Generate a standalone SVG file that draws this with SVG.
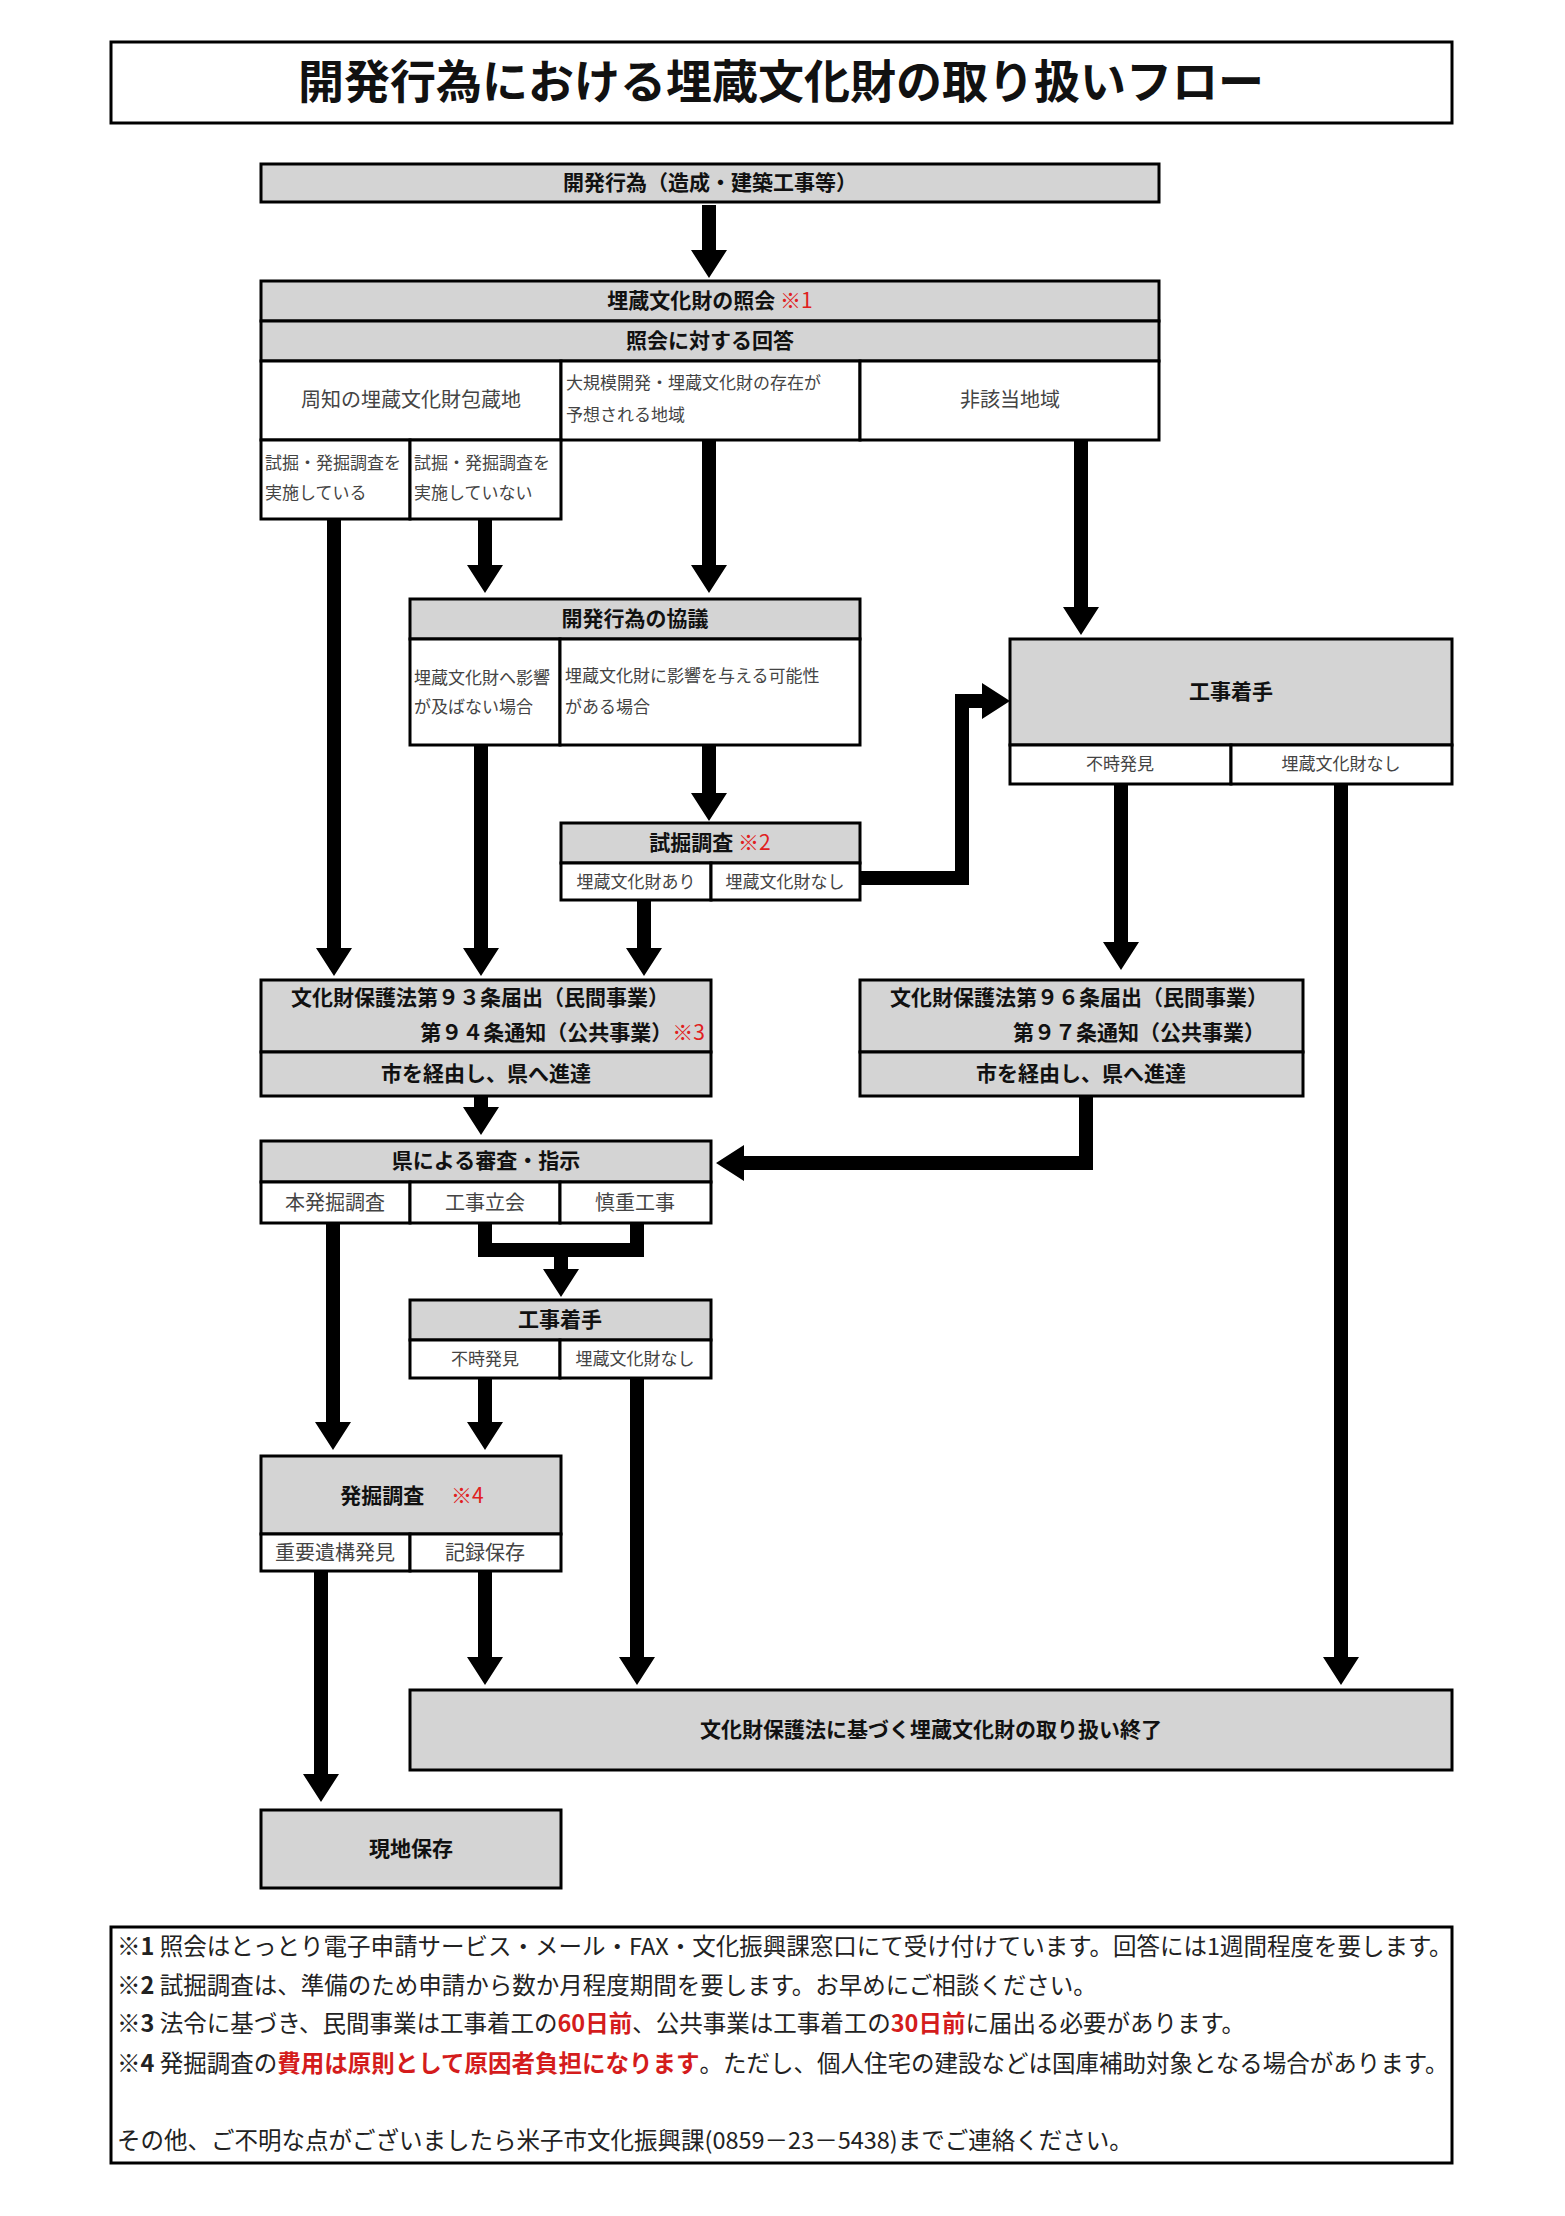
<svg xmlns="http://www.w3.org/2000/svg" width="1565" height="2216" viewBox="0 0 1565 2216">
<style>
text{font-family:"Noto Sans CJK JP","Noto Sans",sans-serif}
.g{fill:#d4d4d4;stroke:#000;stroke-width:3}
.w{fill:#fff;stroke:#000;stroke-width:3}
.h{font-size:21px;font-weight:bold;fill:#111;text-anchor:middle}
.he{font-size:21px;font-weight:bold;fill:#111;text-anchor:end}
.c{font-size:20px;fill:#444;text-anchor:middle}
.s{font-size:17px;fill:#444}
.r{fill:#e02020;font-weight:normal}
.sh{fill:none;stroke:#000;stroke-width:14}
.hd{fill:#000}
.n{font-size:23.5px;fill:#222}
.nb{font-weight:bold}
.nr{font-weight:bold;fill:#d41c1c}
</style>
<rect x="111" y="42" width="1341" height="81" fill="#fff" stroke="#000" stroke-width="3"/>
<text x="781" y="98" font-size="46" font-weight="bold" text-anchor="middle" fill="#111">開発行為における埋蔵文化財の取り扱いフロー</text>

<g id="n1"><rect class="g" x="261" y="164" width="898" height="38"/><text class="h" x="710" y="190">開発行為（造成・建築工事等）</text></g>

<g id="n2">
<rect class="g" x="261" y="281" width="898" height="40"/><text class="h" x="710" y="308">埋蔵文化財の照会 <tspan class="r">※1</tspan></text>
<rect class="g" x="261" y="321" width="898" height="40"/><text class="h" x="710" y="348">照会に対する回答</text>
<rect class="w" x="261" y="361" width="300" height="79"/><text class="c" x="411" y="407">周知の埋蔵文化財包蔵地</text>
<rect class="w" x="561" y="361" width="299" height="79"/><text class="s" x="566" y="389">大規模開発・埋蔵文化財の存在が</text><text class="s" x="566" y="421">予想される地域</text>
<rect class="w" x="860" y="361" width="299" height="79"/><text class="c" x="1010" y="407">非該当地域</text>
<rect class="w" x="261" y="440" width="149" height="79"/><text class="s" x="265" y="469" font-size="15.5">試掘・発掘調査を</text><text class="s" x="265" y="499" font-size="15.5">実施している</text>
<rect class="w" x="410" y="440" width="151" height="79"/><text class="s" x="414" y="469" font-size="15.5">試掘・発掘調査を</text><text class="s" x="414" y="499" font-size="15.5">実施していない</text>
</g>

<g id="n3">
<rect class="g" x="410" y="599" width="450" height="40"/><text class="h" x="635" y="626">開発行為の協議</text>
<rect class="w" x="410" y="639" width="150" height="106"/><text class="s" x="414" y="684" font-size="15.5">埋蔵文化財へ影響</text><text class="s" x="414" y="713" font-size="15.5">が及ばない場合</text>
<rect class="w" x="560" y="639" width="300" height="106"/><text class="s" x="565" y="682">埋蔵文化財に影響を与える可能性</text><text class="s" x="565" y="713">がある場合</text>
</g>

<g id="n4">
<rect class="g" x="1010" y="639" width="442" height="106"/><text class="h" x="1231" y="699">工事着手</text>
<rect class="w" x="1010" y="745" width="221" height="39"/><text class="s" x="1120" y="770" text-anchor="middle">不時発見</text>
<rect class="w" x="1231" y="745" width="221" height="39"/><text class="s" x="1341" y="770" text-anchor="middle">埋蔵文化財なし</text>
</g>

<g id="n5">
<rect class="g" x="561" y="823" width="299" height="40"/><text class="h" x="710" y="850">試掘調査 <tspan class="r">※2</tspan></text>
<rect class="w" x="561" y="863" width="150" height="37"/><text class="s" x="636" y="888" text-anchor="middle">埋蔵文化財あり</text>
<rect class="w" x="711" y="863" width="149" height="37"/><text class="s" x="785" y="888" text-anchor="middle">埋蔵文化財なし</text>
</g>

<g id="n6">
<rect class="g" x="261" y="980" width="450" height="72"/>
<text class="h" x="480" y="1005">文化財保護法第９３条届出（民間事業）</text>
<text class="he" x="705" y="1040">第９４条通知（公共事業）<tspan class="r">※3</tspan></text>
<rect class="g" x="261" y="1052" width="450" height="44"/><text class="h" x="486" y="1081">市を経由し、県へ進達</text>
</g>

<g id="n7">
<rect class="g" x="860" y="980" width="443" height="72"/>
<text class="h" x="1079" y="1005">文化財保護法第９６条届出（民間事業）</text>
<text class="he" x="1265" y="1040">第９７条通知（公共事業）</text>
<rect class="g" x="860" y="1052" width="443" height="44"/><text class="h" x="1081" y="1081">市を経由し、県へ進達</text>
</g>

<g id="n8">
<rect class="g" x="261" y="1141" width="450" height="41"/><text class="h" x="486" y="1168">県による審査・指示</text>
<rect class="w" x="261" y="1182" width="149" height="41"/><text class="c" x="335" y="1210">本発掘調査</text>
<rect class="w" x="410" y="1182" width="150" height="41"/><text class="c" x="485" y="1210">工事立会</text>
<rect class="w" x="560" y="1182" width="151" height="41"/><text class="c" x="635" y="1210">慎重工事</text>
</g>

<g id="n9">
<rect class="g" x="410" y="1300" width="301" height="40"/><text class="h" x="560" y="1327">工事着手</text>
<rect class="w" x="410" y="1340" width="150" height="38"/><text class="s" x="485" y="1365" text-anchor="middle">不時発見</text>
<rect class="w" x="560" y="1340" width="151" height="38"/><text class="s" x="635" y="1365" text-anchor="middle">埋蔵文化財なし</text>
</g>

<g id="n10">
<rect class="g" x="261" y="1456" width="300" height="78"/><text class="h" x="412" y="1503">発掘調査 <tspan class="r" dx="22">※4</tspan></text>
<rect class="w" x="261" y="1534" width="149" height="37"/><text class="c" x="335" y="1560">重要遺構発見</text>
<rect class="w" x="410" y="1534" width="151" height="37"/><text class="c" x="485" y="1560">記録保存</text>
</g>

<g id="n11"><rect class="g" x="410" y="1690" width="1042" height="80"/><text class="h" x="931" y="1737">文化財保護法に基づく埋蔵文化財の取り扱い終了</text></g>
<g id="n12"><rect class="g" x="261" y="1810" width="300" height="78"/><text class="h" x="411" y="1856">現地保存</text></g>

<g id="connectors">
<path class="sh" d="M709,205V252M334,519V950M485,519V567M709,440V567M1081,440V609M481,745V950M709,745V795M644,900V950M1121,784V944M1341,784V1659M481,1096V1109M333,1223V1424M485,1223V1250H637V1223M561,1250V1271M485,1378V1424M637,1378V1659M321,1571V1776M485,1571V1659"/>
<path class="sh" d="M860,878H962V701H984"/>
<path class="sh" d="M1086,1096V1163H742"/>
<path class="hd" d="M691,250h36l-18,28zM316,948h36l-18,28zM467,565h36l-18,28zM691,565h36l-18,28zM1063,607h36l-18,28zM463,948h36l-18,28zM691,793h36l-18,28zM626,948h36l-18,28zM1103,942h36l-18,28zM1323,1657h36l-18,28zM463,1107h36l-18,28zM315,1422h36l-18,28zM543,1269h36l-18,28zM467,1422h36l-18,28zM619,1657h36l-18,28zM303,1774h36l-18,28zM467,1657h36l-18,28z"/>
<path class="hd" d="M982,683v36l28,-18zM744,1145v36l-28,-18z"/>
</g>

<g id="notes">
<rect x="111" y="1927" width="1341" height="236" fill="#fff" stroke="#000" stroke-width="3"/>
<text class="n" x="117" y="1955">※<tspan class="nb">1</tspan> 照会はとっとり電子申請サービス・メール・FAX・文化振興課窓口にて受け付けています。回答には1週間程度を要します。</text>
<text class="n" x="117" y="1994">※<tspan class="nb">2</tspan> 試掘調査は、準備のため申請から数か月程度期間を要します。お早めにご相談ください。</text>
<text class="n" x="117" y="2032">※<tspan class="nb">3</tspan> 法令に基づき、民間事業は工事着工の<tspan class="nr">60日前</tspan>、公共事業は工事着工の<tspan class="nr">30日前</tspan>に届出る必要があります。</text>
<text class="n" x="117" y="2072">※<tspan class="nb">4</tspan> 発掘調査の<tspan class="nr">費用は原則として原因者負担になります</tspan>。ただし、個人住宅の建設などは国庫補助対象となる場合があります。</text>
<text class="n" x="117" y="2149">その他、ご不明な点がございましたら米子市文化振興課(0859－23－5438)までご連絡ください。</text>
</g>
</svg>
